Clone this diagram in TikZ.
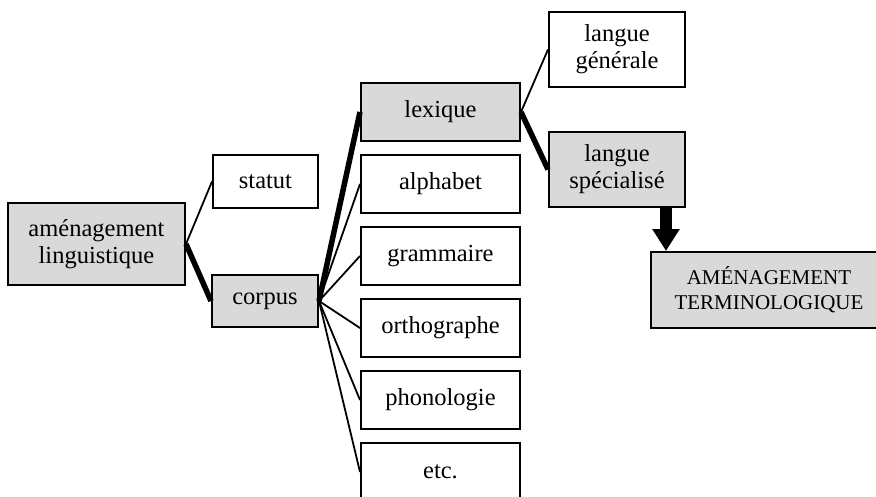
\documentclass[tikz,border=0pt]{standalone}
\usepackage{fontspec}
\setmainfont{Liberation Serif}
\usepackage{tikz}
\usetikzlibrary{arrows.meta,positioning}

\begin{document}
\begin{tikzpicture}[
  x=1pt, y=-1pt,
  every node/.style={font=\fontsize{24.5}{27}\selectfont},
  box/.style={rectangle, draw, line width=2pt, fill=white, align=center,
    inner sep=2pt},
  shaded/.style={box, fill=boxgray},
  link/.style={line width=1.8pt},
  mainlink/.style={line width=5.5pt},
  bigarrow/.style={line width=12pt, -{Triangle[length=22pt,width=26pt]}},
]
\definecolor{boxgray}{RGB}{217,217,217}
\clip (0,0) rectangle (876,496);

% ========= Root and first level =========
\node[shaded, minimum width=177pt, minimum height=82pt] at (96.5,244) (amen) {aménagement\\linguistique};
\node[box, minimum width=105pt, minimum height=53pt] at (265.5,181.5) (statut) {statut};
\node[shaded, minimum width=106pt, minimum height=52pt] at (265,301) (corpus) {corpus};

% ========= Corpus children =========
\node[shaded, minimum width=159pt, minimum height=58pt] at (440.5,112) (lex) {lexique};
\node[box, minimum width=159pt, minimum height=58pt] at (440.5,184) (alpha) {alphabet};
\node[box, minimum width=159pt, minimum height=58pt] at (440.5,256) (gram) {grammaire};
\node[box, minimum width=159pt, minimum height=58pt] at (440.5,328) (ortho) {orthographe};
\node[box, minimum width=159pt, minimum height=58pt] at (440.5,400) (phono) {phonologie};
\node[box, minimum width=159pt, minimum height=58pt] at (440.5,472) (etc) {etc.};

% ========= Lexique children =========
\node[box, minimum width=136pt, minimum height=75pt] at (617,49.5) (gen) {langue\\générale};
\node[shaded, minimum width=136pt, minimum height=75pt] at (617,169.5) (spec) {langue\\spécialisé};
\node[shaded, minimum width=236pt, minimum height=76pt, font=\fontsize{21}{25}\selectfont]
  at (769,290) (term) {AMÉNAGEMENT\\TERMINOLOGIQUE};

% ========= Links =========
\draw[link] (amen.east) -- (statut.west);
\draw[mainlink] (amen.east) -- (corpus.west);
\draw[mainlink] (corpus.east) -- (lex.west);
\draw[link] (corpus.east) -- (alpha.west);
\draw[link] (corpus.east) -- (gram.west);
\draw[link] (corpus.east) -- (ortho.west);
\draw[link] (corpus.east) -- (phono.west);
\draw[link] (corpus.east) -- (etc.west);
\draw[link] (lex.east) -- (gen.west);
\draw[mainlink] (lex.east) -- (spec.west);

% ========= Arrow to terminology =========
\draw[bigarrow] ([xshift=49pt]spec.south) -- ([xshift=49pt]spec.south |- term.north);

\end{tikzpicture}
\end{document}
